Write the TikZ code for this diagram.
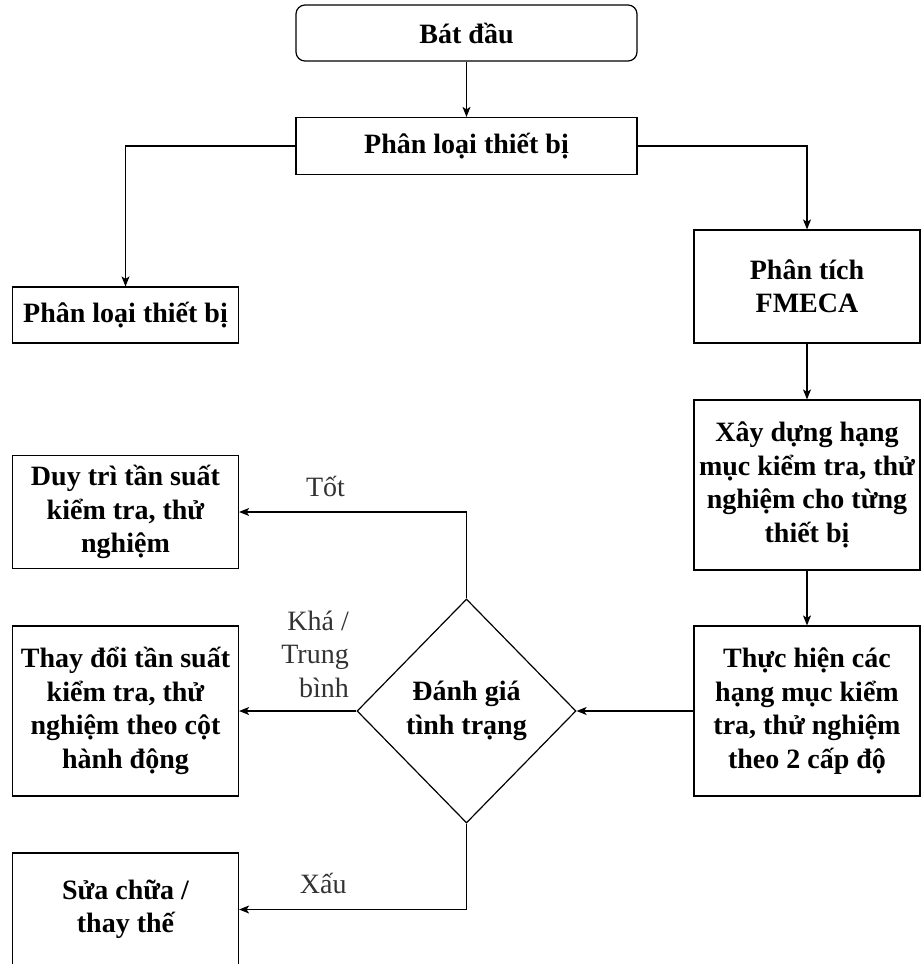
\documentclass[tikz,border=0pt]{standalone}
\usepackage{fontspec}
\setmainfont{Liberation Serif}
\usetikzlibrary{shapes,shapes.geometric,arrows.meta,positioning}
\definecolor{lblgray}{HTML}{333333}

\begin{document}
\begin{tikzpicture}[x=1pt, y=-1pt, >={Stealth[length=10pt,width=8pt,inset=2.5pt]}, line width=1.2pt]
        \tikzstyle{every node} = [align=center, font=\bfseries\fontsize{28}{33.5}\selectfont, inner sep=0pt]
        \tikzstyle{box} = [draw, rectangle, minimum width=226pt]
        \tikzstyle{lbl} = [font=\fontsize{28}{33.5}\selectfont, text=lblgray]
        \useasboundingbox (0,0) rectangle (921,964);

        \node[box, rounded corners=9pt, minimum width=341pt, minimum height=56pt](start) at (466.5,33){Bát đầu};
        \node[box, minimum width=341pt, minimum height=57pt](cls) at (466.5,146){Phân loại thiết bị};
        \node[box, minimum height=56pt](leftcls) at (125.5,315){Phân loại thiết bị};
        \node[box, minimum height=113pt](fmeca) at (807,286.5){Phân tích\\FMECA};
        \node[box, minimum height=170pt](build) at (807,485){Xây dựng hạng\\mục kiểm tra, thử\\nghiệm cho từng\\thiết bị};
        \node[box, minimum height=170pt](perform) at (807,711){Thực hiện các\\hạng mục kiểm\\tra, thử nghiệm\\theo 2 cấp độ};
        \node[draw, diamond, minimum width=219pt, minimum height=224pt](judge) at (466.5,711){Đánh giá\\tình trạng};
        \node[box, minimum height=113pt](keep) at (125.5,512){Duy trì tần suất\\kiểm tra, thử\\nghiệm};
        \node[box, minimum height=170pt](change) at (125.5,711){Thay đổi tần suất\\kiểm tra, thử\\nghiệm theo cột\\hành động};
        \node[box, minimum height=113pt](repair) at (125.5,909.5){Sửa chữa /\\thay thế};

        \draw[->] (start) -- (cls);
        \draw[->] (cls.west) -| (leftcls.north);
        \draw[->] (cls.east) -| (fmeca.north);
        \draw[->] (fmeca) -- (build);
        \draw[->] (build) -- (perform);
        \draw[->] (perform) -- (judge);
        \draw[->] (judge.north) |- node[lbl, pos=0.81, yshift=26pt](){Tốt} (keep.east);
        \draw[->] (judge) -- node[lbl, at start, anchor=south east, align=right, xshift=-7pt, yshift=13pt](){Khá /\\Trung\\bình} (change);
        \draw[->] (judge.south) |- node[lbl, pos=0.815, yshift=26pt](){Xấu} (repair.east);
    \end{tikzpicture}
\end{document}
